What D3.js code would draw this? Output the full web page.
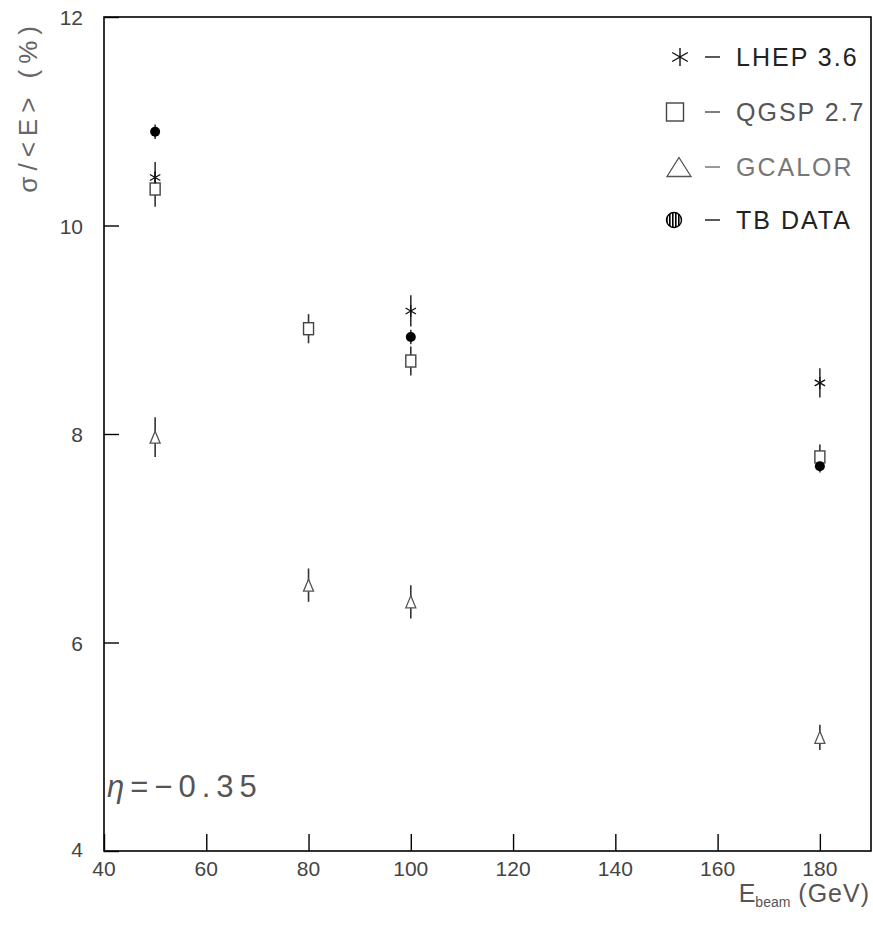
<!DOCTYPE html>
<html><head><meta charset="utf-8">
<script src="https://cdn.jsdelivr.net/npm/d3@7"></script>
<style>body{margin:0;background:#fff}svg{display:block}</style>
</head><body>
<script>
// ---- data ----
const energies = [50, 80, 100, 180];
const lhep   = [10.46, null, 9.18, 8.49];
const lhepErr= [0.15, null, 0.15, 0.14];
const qgsp   = [10.35, 9.01, 8.70, 7.78];
const qgspErr= [0.17, 0.14, 0.14, 0.12];
const gcalor = [7.97, 6.55, 6.39, 5.09];
const gcalorErr=[0.19, 0.16, 0.16, 0.12];
const tbData = [10.90, null, 8.93, 7.69];
const tbErr  = [0.07, null, 0.07, 0.06];
const xTicks = [40, 60, 80, 100, 120, 140, 160, 180];
const yTicks = [4, 6, 8, 10, 12];
const legendLabels = ["LHEP 3.6", "QGSP 2.7", "GCALOR", "TB DATA"];

const W = 873, H = 925;
const svg = d3.select("body").append("svg").attr("width", W).attr("height", H);
const font = "'Liberation Sans', Arial, sans-serif";
const x = d3.scaleLinear().domain([40, 190]).range([104, 871]);
const y = d3.scaleLinear().domain([4, 12]).range([851, 17]);

// frame
svg.append("rect").attr("x", 104).attr("y", 17).attr("width", 767).attr("height", 834)
  .attr("fill", "none").attr("stroke", "#000").attr("stroke-width", 1.6);

// ticks
const xAxis = d3.axisBottom(x).tickValues(xTicks).tickSize(-17).tickPadding(0).tickFormat("");
const gx = svg.append("g").attr("transform", "translate(0,851)").call(xAxis);
gx.select(".domain").remove();
gx.selectAll("line").attr("stroke", "#000").attr("stroke-width", 1.4);
const yAxis = d3.axisLeft(y).tickValues(yTicks).tickSize(-15).tickFormat("");
const gy = svg.append("g").attr("transform", "translate(104,0)").call(yAxis);
gy.select(".domain").remove();
gy.selectAll("line").attr("stroke", "#000").attr("stroke-width", 1.4);

// tick labels
svg.append("g").selectAll("text").data(xTicks).join("text")
  .attr("x", d => x(d)).attr("y", 876).attr("text-anchor", "middle")
  .attr("font-family", font).attr("font-size", 21).attr("fill", "#444").text(d => d);
svg.append("g").selectAll("text").data(yTicks).join("text")
  .attr("x", 83).attr("y", d => y(d) + (d === 4 ? 6 : 8)).attr("text-anchor", "end")
  .attr("font-family", font).attr("font-size", 21).attr("fill", "#444").text(d => d);

// axis titles
const xt = svg.append("text").attr("x", 870).attr("y", 902).attr("text-anchor", "end")
  .attr("font-family", font).attr("font-size", 25).attr("fill", "#555");
xt.append("tspan").text("E");
xt.append("tspan").attr("font-size", 14).attr("dy", 5).text("beam");
xt.append("tspan").attr("dy", -5).attr("letter-spacing", 1).text(" (GeV)");

svg.append("text").attr("transform", "translate(37,20) rotate(-90)").attr("text-anchor", "end")
  .attr("font-family", font).attr("font-size", 26).attr("letter-spacing", 6)
  .attr("fill", "#666").text("σ/<E> (%)");

// eta label
const eta = svg.append("text").attr("x", 107).attr("y", 797).attr("font-family", font).attr("font-size", 31)
  .attr("letter-spacing", 6).attr("fill", "#555");
eta.append("tspan").attr("font-style", "italic").text("η");
eta.append("tspan").text("=−0.35");

// marker drawers
function asterisk(g, cx, cy, r, sw) {
  const p = d3.path();
  for (let k = 0; k < 3; k++) {
    const a = Math.PI / 2 + k * Math.PI / 3;
    p.moveTo(cx - r * Math.cos(a), cy - r * Math.sin(a));
    p.lineTo(cx + r * Math.cos(a), cy + r * Math.sin(a));
  }
  g.append("path").attr("d", p.toString()).attr("stroke", "#111").attr("stroke-width", sw).attr("fill", "none");
}
function square(g, cx, cy, w, h) {
  g.append("rect").attr("x", cx - w / 2).attr("y", cy - h / 2).attr("width", w).attr("height", h)
    .attr("fill", "#fff").attr("stroke", "#444").attr("stroke-width", 1.4);
}
function triangle(g, cx, cy, w, h) {
  g.append("path").attr("d", `M${cx},${cy - h / 2}L${cx + w / 2},${cy + h / 2}L${cx - w / 2},${cy + h / 2}Z`)
    .attr("fill", "#fff").attr("stroke", "#555").attr("stroke-width", 1.3);
}
function dot(g, cx, cy, r) {
  g.append("circle").attr("cx", cx).attr("cy", cy).attr("r", r).attr("fill", "#000");
}

const plot = svg.append("g");
function errbars(vals, errs, color) {
  vals.forEach((v, i) => {
    if (v == null) return;
    plot.append("line").attr("x1", x(energies[i])).attr("x2", x(energies[i]))
      .attr("y1", y(v + errs[i])).attr("y2", y(v - errs[i]))
      .attr("stroke", color).attr("stroke-width", 1.6);
  });
}
errbars(gcalor, gcalorErr, "#333");
errbars(qgsp, qgspErr, "#333");
errbars(lhep, lhepErr, "#333");
errbars(tbData, tbErr, "#333");
gcalor.forEach((v, i) => triangle(plot, x(energies[i]), y(v), 10, 12));
qgsp.forEach((v, i) => square(plot, x(energies[i]), y(v), 10, 12));
lhep.forEach((v, i) => { if (v != null) asterisk(plot, x(energies[i]), y(v), 6, 1.3); });
tbData.forEach((v, i) => { if (v != null) dot(plot, x(energies[i]), y(v), 5); });

// legend
const leg = svg.append("g");
const rows = [57, 112, 167, 220];
const legColors = ["#222", "#555", "#777", "#222"];
asterisk(leg, 680, rows[0], 9, 1.4);
square(leg, 675, rows[1], 17, 18);
triangle(leg, 679, rows[2], 24, 19);
// hatched circle
const defs = svg.append("defs");
const pat = defs.append("pattern").attr("id", "vh").attr("patternUnits", "userSpaceOnUse")
  .attr("width", 3).attr("height", 3);
pat.append("rect").attr("width", 3).attr("height", 3).attr("fill", "#fff");
pat.append("rect").attr("width", 1.6).attr("height", 3).attr("fill", "#000");
leg.append("circle").attr("cx", 674).attr("cy", rows[3]).attr("r", 7.5)
  .attr("fill", "url(#vh)").attr("stroke", "#000").attr("stroke-width", 1.4);
rows.forEach((ry, i) => {
  leg.append("line").attr("x1", 705).attr("x2", 720).attr("y1", ry).attr("y2", ry)
    .attr("stroke", legColors[i]).attr("stroke-width", 1.5);
  leg.append("text").attr("x", 736).attr("y", ry + 9).attr("font-family", font)
    .attr("font-size", 25).attr("letter-spacing", 2).attr("fill", legColors[i]).text(legendLabels[i]);
});
</script>
</body></html>
